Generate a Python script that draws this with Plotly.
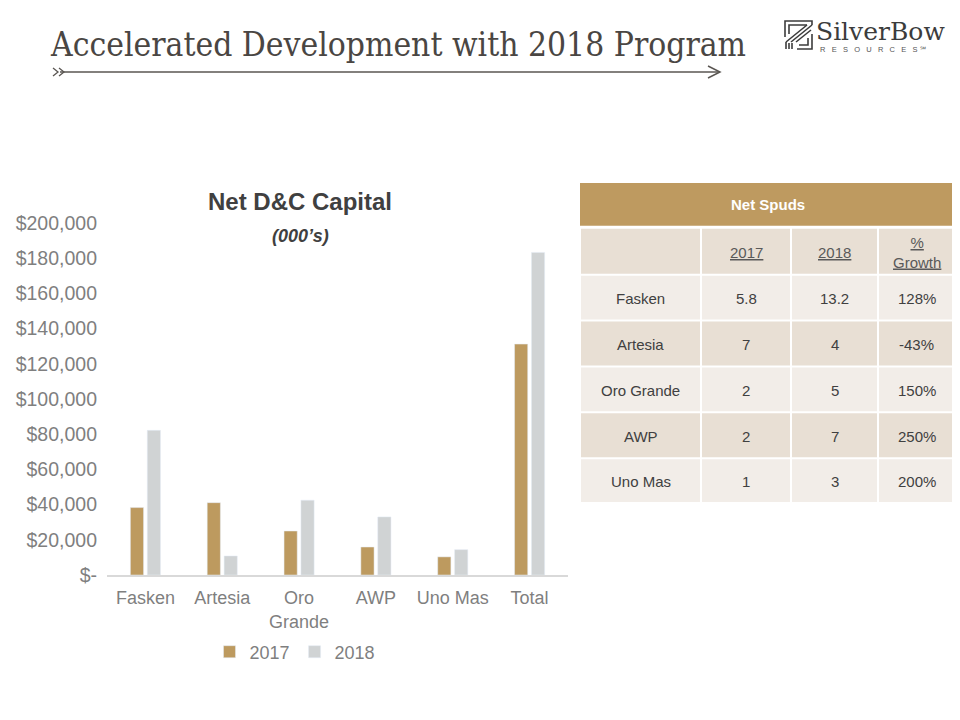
import plotly.graph_objects as go

# ---------------- data ----------------
categories = ["Fasken", "Artesia", "Oro<br>Grande", "AWP", "Uno Mas", "Total"]
capex_2017 = [38300, 41100, 25000, 15900, 10300, 131200]
capex_2018 = [82200, 10800, 42500, 33000, 14400, 183300]
y_tick_vals = [0, 20000, 40000, 60000, 80000, 100000, 120000, 140000, 160000, 180000, 200000]
y_tick_text = ["$-", "$20,000", "$40,000", "$60,000", "$80,000", "$100,000",
               "$120,000", "$140,000", "$160,000", "$180,000", "$200,000"]

table_title = "Net Spuds"
table_header = ["", "<u>2017</u>", "<u>2018</u>", "<u>%</u><br><u>Growth</u>"]
table_rows = ["Fasken", "Artesia", "Oro Grande", "AWP", "Uno Mas"]
spuds_2017 = ["5.8", "7", "2", "2", "1"]
spuds_2018 = ["13.2", "4", "5", "7", "3"]
spuds_growth = ["128%", "-43%", "150%", "250%", "200%"]

# ---------------- geometry helpers (page pixels; the page body has an 8px margin) ----------------
OFF = 8
W, H = 960 - OFF, 720 - OFF
def px(x):
    return (x - OFF) / W
def py(y):
    return 1 - (y - OFF) / H

GOLD = "#BD9A5F"
GREY = "#D0D3D4"
TXT = "#7F7F7F"
FONT = "Liberation Sans, Arial, sans-serif"

fig = go.Figure()
fig.add_trace(go.Bar(x=categories, y=capex_2017, name="2017", marker_color=GOLD,
                     xaxis="x", yaxis="y"))
fig.add_trace(go.Bar(x=categories, y=capex_2018, name="2018", marker_color=GREY,
                     xaxis="x", yaxis="y"))

shapes = []
annotations = []

# ---------------- table (drawn on its own hidden axis pair) ----------------
col_edges = [0, 121, 211, 298, 375]
row_edges = [45, 92, 138, 184, 230, 276, 321]
BAND = "#BE9A60"
BEIGE = "#E8DFD4"
LIGHT = "#F2EDE8"

shapes.append(dict(type="rect", xref="x2", yref="y2", x0=0, x1=col_edges[-1], y0=0, y1=43,
                   fillcolor=BAND, line=dict(width=0), layer="below"))
annotations.append(dict(xref="x2", yref="y2", x=col_edges[-1] / 2, y=21.5,
                        xanchor="center", yanchor="middle",
                        text="<b>" + table_title + "</b>", showarrow=False,
                        font=dict(family=FONT, size=15, color="white")))

table_cols = [table_rows, spuds_2017, spuds_2018, spuds_growth]
all_rows = [table_header] + [[c[i] for c in table_cols] for i in range(len(table_rows))]
for r, row in enumerate(all_rows):
    fill = BEIGE if r % 2 == 0 else LIGHT
    y0, y1 = row_edges[r] + 1, row_edges[r + 1] - 1
    for c, val in enumerate(row):
        x0, x1 = col_edges[c] + 1, col_edges[c + 1] - 1
        shapes.append(dict(type="rect", xref="x2", yref="y2", x0=x0, x1=x1, y0=y0, y1=y1,
                           fillcolor=fill, line=dict(width=0), layer="below"))
        if val:
            annotations.append(dict(xref="x2", yref="y2", x=(x0 + x1) / 2, y=(y0 + y1) / 2 + 1,
                                    xanchor="center", yanchor="middle", text=val,
                                    showarrow=False,
                                    font=dict(family=FONT, size=15,
                                              color="#595959" if r == 0 else "#404040")))

# ---------------- slide title, arrow, logo ----------------
annotations.append(dict(xref="paper", yref="paper", x=px(48), y=py(44),
                        xanchor="left", yanchor="middle",
                        text="Accelerated Development with 2018 Program", showarrow=False,
                        font=dict(family="DejaVu Serif Condensed, serif", size=33.3, color="#4A4643")))

ac = "#5A5652"
shapes.append(dict(type="line", xref="paper", yref="paper", x0=px(60), x1=px(720),
                   y0=py(72), y1=py(72), line=dict(color=ac, width=1.5)))
shapes.append(dict(type="path", xref="paper", yref="paper",
                   path=f"M {px(708)},{py(66)} L {px(720)},{py(72)} L {px(708)},{py(78)}",
                   line=dict(color=ac, width=1.5)))
for dx in (0, 6):
    shapes.append(dict(type="path", xref="paper", yref="paper",
                       path=f"M {px(53+dx)},{py(68)} L {px(58+dx)},{py(72)} L {px(53+dx)},{py(76)}",
                       line=dict(color=ac, width=1.3)))

lc = "#3C3C3C"
logo_paths = [
    [(785, 37), (785, 21), (812, 21), (812, 25)],
    [(789, 34), (789, 25), (807, 25)],
    [(812, 25), (791, 42)],
    [(807, 25), (786, 42)],
    [(811, 30), (796, 42)],
    [(812, 34), (812, 49), (797, 49)],
    [(808, 38), (808, 45), (799, 45)],
    [(786, 42), (786, 49)], [(789, 43), (789, 49)], [(792, 43), (792, 49)],
]
for pts in logo_paths:
    path = "M " + " L ".join(f"{px(x)},{py(y)}" for x, y in pts)
    shapes.append(dict(type="path", xref="paper", yref="paper", path=path,
                       line=dict(color=lc, width=1.6)))
annotations.append(dict(xref="paper", yref="paper", x=px(814), y=py(31),
                        xanchor="left", yanchor="middle",
                        text="SilverBow", showarrow=False,
                        font=dict(family="DejaVu Serif, serif", size=25, color=lc)))
nb = "\u00a0" * 3
annotations.append(dict(xref="paper", yref="paper", x=px(818), y=py(49.5),
                        xanchor="left", yanchor="middle",
                        text=nb.join("RESOURCES") + "\u00a0℠", showarrow=False,
                        font=dict(family=FONT, size=7.5, color="#555555")))

# ---------------- chart titles ----------------
annotations.append(dict(xref="paper", yref="paper", x=px(300), y=py(201),
                        xanchor="center", yanchor="middle",
                        text="<b>Net D&C Capital</b>", showarrow=False,
                        font=dict(family=FONT, size=24, color="#404040")))
annotations.append(dict(xref="paper", yref="paper", x=px(300), y=py(236),
                        xanchor="center", yanchor="middle",
                        text="<b><i>(000’s)</i></b>", showarrow=False,
                        font=dict(family=FONT, size=18, color="#404040")))

fig.update_layout(
    width=W, height=H,
    margin=dict(l=0, r=0, t=0, b=0, pad=0),
    paper_bgcolor="white", plot_bgcolor="white",
    barmode="group", bargap=0.56, bargroupgap=0.22,
    showlegend=True,
    legend=dict(orientation="h", x=px(295), xanchor="center", y=py(652), yanchor="middle",
                font=dict(family=FONT, size=18, color=TXT), itemwidth=30,
                bgcolor="rgba(0,0,0,0)"),
    xaxis=dict(domain=[px(107), px(568)], showgrid=False, showline=True,
               linecolor="#D9D9D9", linewidth=1.5, ticks="", automargin=False,
               ticklabelstandoff=6,
               tickfont=dict(family=FONT, size=18, color=TXT), fixedrange=True),
    yaxis=dict(domain=[py(575), py(223)], range=[0, 200000], showgrid=False,
               showline=False, zeroline=False, tickvals=y_tick_vals, ticktext=y_tick_text,
               automargin=False, fixedrange=True,
               tickfont=dict(family=FONT, size=19.5, color=TXT), ticklabelstandoff=9),
    xaxis2=dict(domain=[px(580), px(955)], range=[0, 375], visible=False, fixedrange=True,
                anchor="y2"),
    yaxis2=dict(domain=[py(503), py(183)], range=[321, 0], visible=False, fixedrange=True,
                anchor="x2"),
    shapes=shapes, annotations=annotations,
    font=dict(family=FONT),
)

fig.write_html("out.html")
